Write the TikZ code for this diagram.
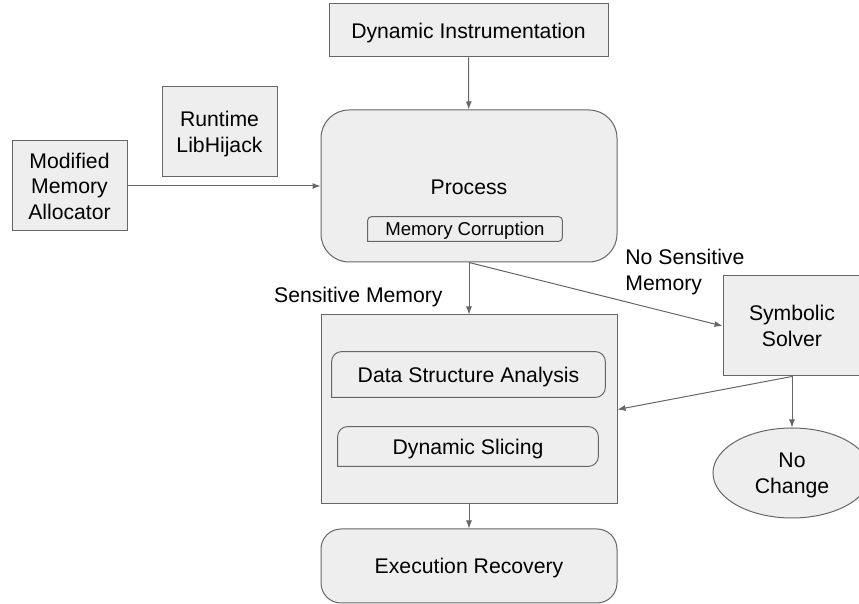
\documentclass[tikz,border=0pt]{standalone}
\usepackage{fontspec}
\setmainfont{Liberation Sans}
\usepackage{xcolor}
\usetikzlibrary{shapes.geometric, arrows.meta}

\definecolor{boxfill}{HTML}{EEEEEE}
\definecolor{boxline}{HTML}{666666}

\begin{document}
\begin{tikzpicture}[x=0.5pt, y=-0.5pt,
    every node/.style={font=\fontsize{10.6}{12.75}\selectfont, align=center, inner sep=0pt, text depth=0pt},
    box/.style={draw=boxline, line width=0.5pt, fill=boxfill},
    link/.style={draw=boxline, line width=0.5pt, -{Latex[length=4pt, width=3pt]}}]
  \useasboundingbox (0, 0) rectangle (859, 604);

  % Top and left inputs
  \node[box, minimum width=139.5pt, minimum height=26.5pt] (instr) at (468.5, 30.5) {Dynamic Instrumentation};
  \node[box, minimum width=57.5pt, minimum height=45pt] (hijack) at (219.5, 132) {Runtime\\LibHijack};
  \node[box, minimum width=57.5pt, minimum height=45pt] (alloc) at (69.5, 186) {Modified\\Memory\\Allocator};

  % Process
  \node[box, rounded corners=14pt, minimum width=148pt, minimum height=76pt] (proc) at (469, 186) {};
  \node (proctext) at (469, 187) {Process};
  \node[minimum width=97pt, minimum height=12pt, font=\fontsize{9.3}{11}\selectfont] (corrupt) at (465, 229) {Memory Corruption};
  \draw[draw=boxline, line width=0.5pt] (corrupt.south west) [rounded corners=2pt] -- (corrupt.north west)
     -- (corrupt.north east) -- (corrupt.south east) [sharp corners] -- cycle;

  % Analysis
  \node[box, minimum width=148pt, minimum height=94.5pt] (analysis) at (469, 409.5) {};
  \node[minimum width=136.5pt, minimum height=22.5pt] (dsa) at (468.5, 374.5) {Data Structure Analysis};
  \draw[draw=boxline, line width=0.5pt] (dsa.south west) [rounded corners=5pt] -- (dsa.north west)
     -- (dsa.north east) -- (dsa.south east) [sharp corners] -- cycle;
  \node[minimum width=130pt, minimum height=19.5pt] (slicing) at (468, 446.5) {Dynamic Slicing};
  \draw[draw=boxline, line width=0.5pt] (slicing.south west) [rounded corners=5pt] -- (slicing.north west)
     -- (slicing.north east) -- (slicing.south east) [sharp corners] -- cycle;

  % Recovery
  \node[box, rounded corners=10pt, minimum width=148pt, minimum height=37pt] (recovery) at (469, 566) {Execution Recovery};

  % Solver side
  \node[box, minimum width=69pt, minimum height=50pt] (solver) at (792, 326) {Symbolic\\Solver};
  \node[box, ellipse, minimum width=79pt, minimum height=45pt] (nochange) at (792, 473) {No\\Change};

  % Edge labels
  \node[anchor=east] (senslabel) at (443, 295) {Sensitive Memory};
  \node[anchor=west, align=left] (nosenslabel) at (625, 270) {No Sensitive\\Memory};

  % Connectors
  \draw[link] (instr) -- (proc);
  \draw[link] (alloc) -- (proc);
  \draw[link] (proc) -- (analysis);
  \draw[link] (proc.south) -- (solver.west);
  \draw[link] (solver.south) -- (analysis.east);
  \draw[link] (solver) -- (nochange);
  \draw[link] (analysis) -- (recovery);
\end{tikzpicture}
\end{document}
